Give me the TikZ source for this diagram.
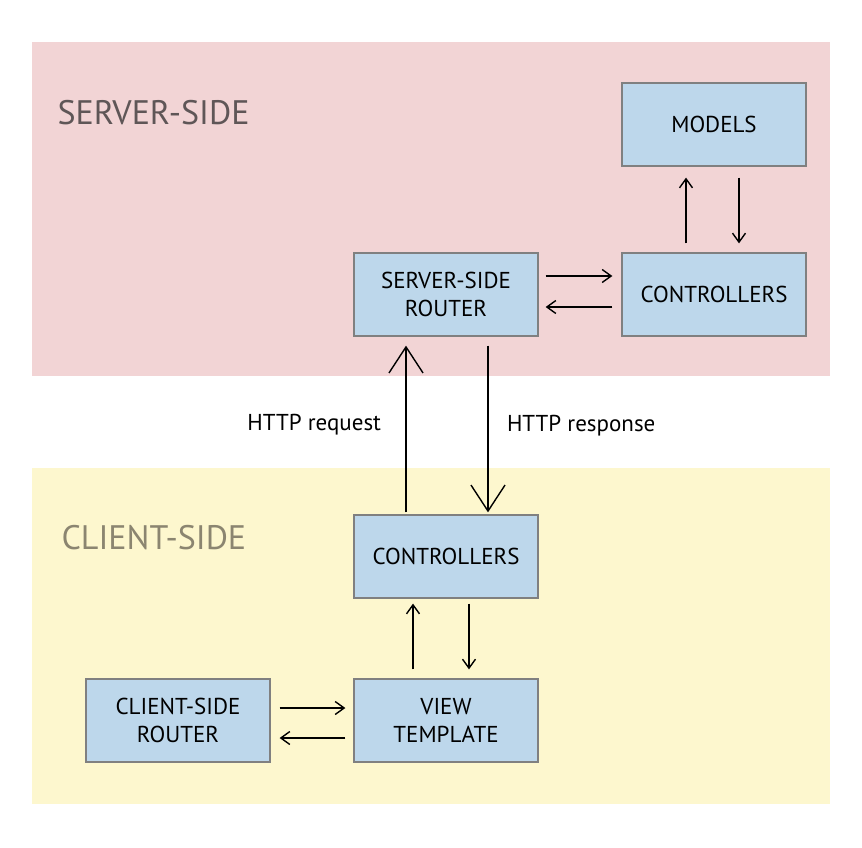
\documentclass[tikz,border=0pt]{standalone}
\usepackage{fontspec}
\setmainfont{PT Sans}
\usetikzlibrary{arrows.meta}
\definecolor{serverbg}{HTML}{F2D4D5}
\definecolor{clientbg}{HTML}{FDF7CE}
\definecolor{boxfill}{HTML}{BDD7EB}
\definecolor{boxline}{HTML}{808080}
\definecolor{servertext}{HTML}{5F5657}
\definecolor{clienttext}{HTML}{8B8570}
\tikzset{
    box/.style={draw=boxline, line width=1.3pt, fill=boxfill, minimum width=184, minimum height=83,
        align=center, font=\fontsize{23}{28}\selectfont},
    side/.style={anchor=west, font=\fontsize{34}{40}\selectfont},
    lbl/.style={font=\fontsize{23}{27}\selectfont},
    small/.style={-{Straight Barb[length=9pt,width=13pt]}, line width=1.4pt},
    big/.style={-{Straight Barb[length=26pt,width=34pt]}, line width=1.4pt}
}
\begin{document}
\begin{tikzpicture}[x=1pt, y=-1pt]
    \useasboundingbox (0,0) rectangle (862,848);
    \fill[serverbg] (32,42) rectangle (830,376);
    \fill[clientbg] (32,468) rectangle (830,804);
    \node[side, text=servertext] (S) at (54,113) {SERVER-SIDE};
    \node[side, text=clienttext] (C) at (58,538) {CLIENT-SIDE};
    \node[box] (M) at (714,124.5) {MODELS};
    \node[box] (SC) at (714,294.5) {CONTROLLERS};
    \node[box] (SR) at (446,294.5) {SERVER-SIDE\\ROUTER};
    \node[box] (CC) at (446,556.5) {CONTROLLERS};
    \node[box] (V) at (446,720.5) {VIEW\\TEMPLATE};
    \node[box] (CR) at (178,720.5) {CLIENT-SIDE\\ROUTER};
    \draw[small, shorten <=7pt, shorten >=9pt] ([yshift=18.5pt]SR.east) -- ([yshift=18.5pt]SC.west);
    \draw[small, shorten <=9pt, shorten >=7pt] ([yshift=-12.5pt]SC.west) -- ([yshift=-12.5pt]SR.east);
    \draw[small, shorten <=9pt, shorten >=11pt] ([xshift=-28pt]SC.north) -- ([xshift=-28pt]M.south);
    \draw[small, shorten <=11pt, shorten >=9pt] ([xshift=25pt]M.south) -- ([xshift=25pt]SC.north);
    \draw[big, shorten <=2pt, shorten >=9pt] ([xshift=-40pt]CC.north) -- node[lbl, pos=0.505, left=21pt] {HTTP request} ([xshift=-40pt]SR.south);
    \draw[big, shorten <=9pt, shorten >=2pt] ([xshift=42pt]SR.south) -- node[lbl, pos=0.5, right=15pt] {HTTP response} ([xshift=42pt]CC.north);
    \draw[small, shorten <=9pt, shorten >=5pt] ([xshift=-33pt]V.north) -- ([xshift=-33pt]CC.south);
    \draw[small, shorten <=5pt, shorten >=9pt] ([xshift=23pt]CC.south) -- ([xshift=23pt]V.north);
    \draw[small, shorten <=9pt, shorten >=8pt] ([yshift=12.5pt]CR.east) -- ([yshift=12.5pt]V.west);
    \draw[small, shorten <=8pt, shorten >=9pt] ([yshift=-17.5pt]V.west) -- ([yshift=-17.5pt]CR.east);
\end{tikzpicture}
\end{document}
